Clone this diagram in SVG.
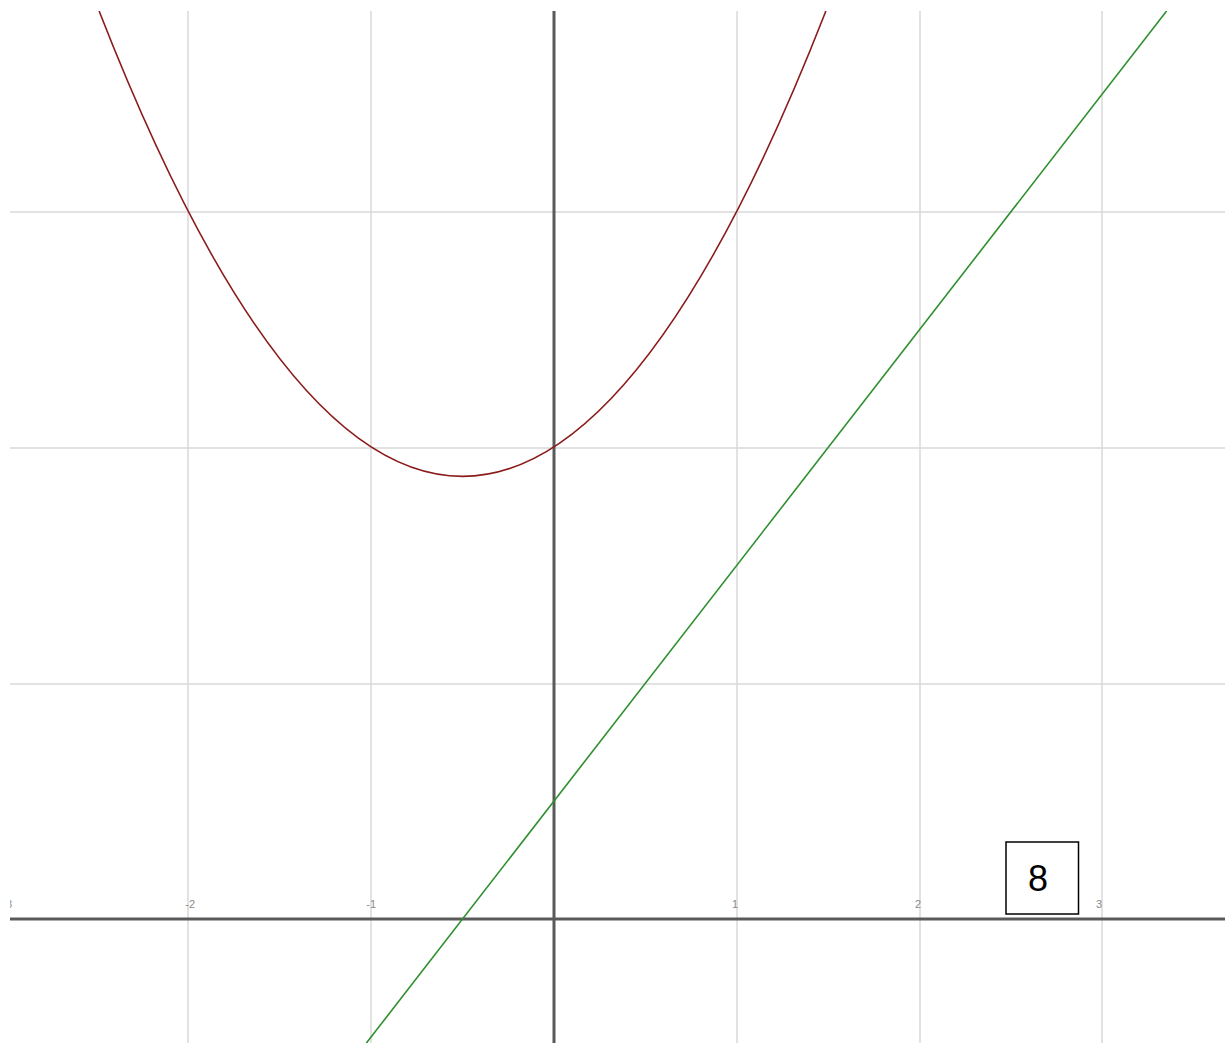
<svg xmlns="http://www.w3.org/2000/svg" width="1225" height="1043" viewBox="0 0 1225 1043">
  <style>
    .grid { stroke: #d9d9d9; stroke-width: 1.5; fill: none; }
    .axis { stroke: #5a5a5a; stroke-width: 3; fill: none; }
    .tick { font-family: "Liberation Sans", Arial, sans-serif; font-size: 11px; fill: #8a8a8a; }
    .curve { fill: none; stroke-width: 1.6; }
  </style>
  <defs>
    <clipPath id="plot">
      <rect x="10" y="11" width="1215" height="1032"/>
    </clipPath>
  </defs>
  <rect width="1225" height="1043" fill="#ffffff"/>
  <g id="graph" clip-path="url(#plot)">
    <g id="grid">
      <line class="grid" x1="188" y1="11" x2="188" y2="1043"/>
      <line class="grid" x1="371" y1="11" x2="371" y2="1043"/>
      <line class="grid" x1="737" y1="11" x2="737" y2="1043"/>
      <line class="grid" x1="920" y1="11" x2="920" y2="1043"/>
      <line class="grid" x1="1102" y1="11" x2="1102" y2="1043"/>
      <line class="grid" x1="10" y1="212" x2="1225" y2="212"/>
      <line class="grid" x1="10" y1="448" x2="1225" y2="448"/>
      <line class="grid" x1="10" y1="684" x2="1225" y2="684"/>
    </g>
    <g id="axes">
      <line class="axis" x1="10" y1="919" x2="1225" y2="919"/>
      <line class="axis" x1="554" y1="11" x2="554" y2="1043"/>
    </g>
    <g id="ticks">
      <text class="tick" x="12" y="908" text-anchor="end" fill="#bbbbbb">-3</text>
      <text class="tick" x="195" y="908" text-anchor="end">-2</text>
      <text class="tick" x="376" y="908" text-anchor="end">-1</text>
      <text class="tick" x="735" y="908" text-anchor="middle">1</text>
      <text class="tick" x="918" y="908" text-anchor="middle">2</text>
      <text class="tick" x="1099" y="908" text-anchor="middle" fill="#aaaaaa">3</text>
    </g>
    <g id="connectors">
      <path id="parabola" class="curve" stroke="#8b1c1c" d="M99.1,11 Q462.5,941.8 825.9,11"/>
      <line id="line" class="curve" stroke="#2f8f2f" x1="366.4" y1="1043" x2="1166.6" y2="11"/>
    </g>
  </g>
  <g id="label-8">
    <rect x="1006" y="842" width="72.5" height="72" fill="#ffffff" stroke="#000000" stroke-width="1.5"/>
    <text x="1038" y="891" text-anchor="middle" font-family="Liberation Sans, Arial, sans-serif" font-size="36" fill="#000000">8</text>
  </g>
</svg>
